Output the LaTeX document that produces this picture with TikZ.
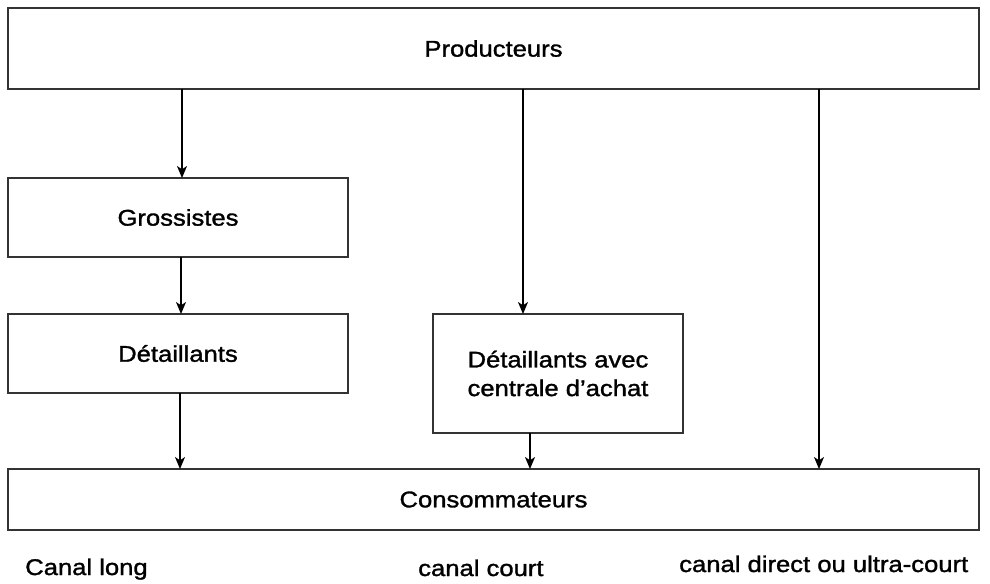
\documentclass[tikz,border=0pt]{standalone}
\usepackage{fontspec}
\setmainfont[FakeStretch=1.13,FakeBold=1.4]{Liberation Sans}
\usetikzlibrary{arrows.meta}
\begin{document}
\begin{tikzpicture}[x=0.75pt,y=-0.75pt,
  box/.style={draw=black!80,line width=1.4pt*0.75,inner sep=0pt,outer sep=0pt,align=center,font=\fontsize{17}{21.5}\selectfont},
  arr/.style={draw=black,line width=1.3pt*0.75,-{Stealth[length=9pt,width=7.5pt,inset=2.5pt]}},
  lab/.style={anchor=base west,inner sep=0pt,font=\fontsize{17}{21}\selectfont}]
\path[use as bounding box,fill=white] (0,0) rectangle (990,583);
\node[box,minimum width=971*0.75pt,minimum height=81*0.75pt] (prod) at (493.5,48.5) {Producteurs};
\node[box,minimum width=340*0.75pt,minimum height=79*0.75pt] (gros) at (178,217.5) {Grossistes};
\node[box,minimum width=340*0.75pt,minimum height=79*0.75pt] (det) at (178,353.5) {Détaillants};
\node[box,minimum width=250*0.75pt,minimum height=119*0.75pt] (cent) at (558,373.5) {Détaillants avec\\centrale d’achat};
\node[box,minimum width=971*0.75pt,minimum height=61*0.75pt] (cons) at (493.5,499.5) {Consommateurs};
\draw[arr] (prod.south -| 182,0) -- (gros.north -| 182,0);
\draw[arr] (gros.south -| 181,0) -- (det.north -| 181,0);
\draw[arr] (det.south -| 180,0) -- (cons.north -| 180,0);
\draw[arr] (prod.south -| 523,0) -- (cent.north -| 523,0);
\draw[arr] (cent.south -| 530,0) -- (cons.north -| 530,0);
\draw[arr] (prod.south -| 819,0) -- (cons.north -| 819,0);
\node[lab] (l1) at (25,575) {Canal long};
\node[lab] (l2) at (418,576) {canal court};
\node[lab] (l3) at (679,572) {canal direct ou ultra-court};
\end{tikzpicture}
\end{document}
